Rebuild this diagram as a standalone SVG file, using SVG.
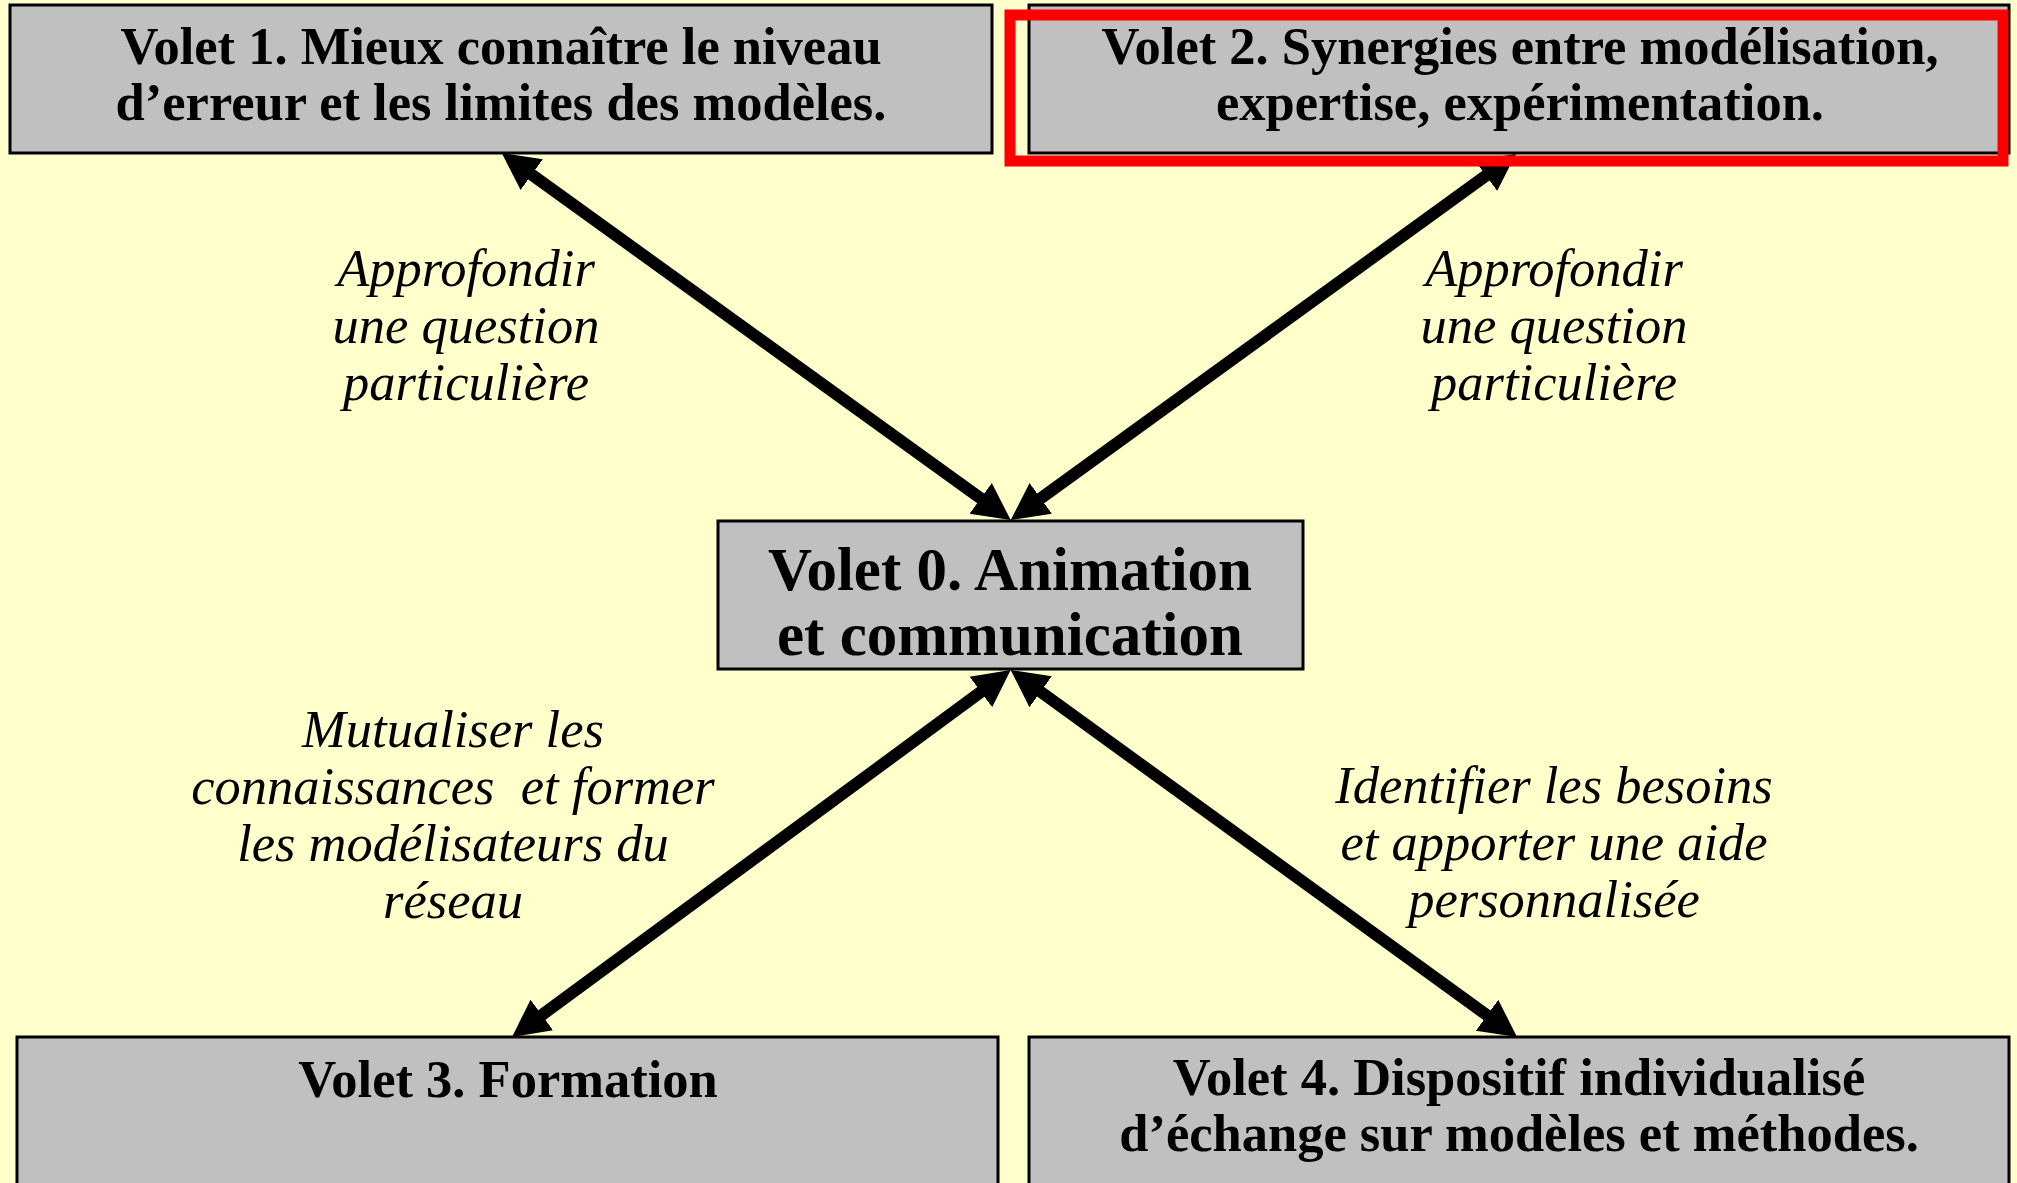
<svg xmlns="http://www.w3.org/2000/svg" width="2017" height="1183" viewBox="0 0 2017 1183">
<style>
.box{fill:#C0C0C0;stroke:#000;stroke-width:3}
.bt{font-family:"Liberation Serif","Times New Roman",serif;font-weight:bold;font-size:52.5px;fill:#000;text-anchor:middle}
.bt0{font-size:61px}
.lb{font-family:"Liberation Serif","Times New Roman",serif;font-style:italic;font-size:52.5px;fill:#000;text-anchor:middle}
.conn{stroke:#000;stroke-width:12;fill:none;marker-start:url(#ah);marker-end:url(#ah)}
</style>
<defs>
<marker id="ah" markerUnits="userSpaceOnUse" markerWidth="44" markerHeight="44" viewBox="0 -22 44 44" refX="3" refY="0" orient="auto-start-reverse">
<path d="M0,-19 L37,0 L0,19 z" fill="#000"/>
</marker>
</defs>
<rect x="0" y="0" width="2017" height="1183" fill="#FFFFCC"/>
<g id="connectors">
<line class="conn" x1="529.3" y1="172.9" x2="983.1" y2="500.1"/>
<line class="conn" x1="1488.4" y1="173.9" x2="1038.3" y2="500.1"/>
<line class="conn" x1="983.3" y1="690.2" x2="539.4" y2="1016.8"/>
<line class="conn" x1="1038.2" y1="690.0" x2="1489.5" y2="1017.0"/>
</g>
<g id="volet1">
<rect class="box" x="10" y="5" width="982" height="148"/>
<text class="bt" x="501" y="64">Volet 1. Mieux connaître le niveau</text>
<text class="bt" x="501" y="120">d’erreur et les limites des modèles.</text>
</g>
<g id="volet2">
<rect class="box" x="1029" y="5" width="980" height="148"/>
<text class="bt" x="1520" y="64">Volet 2. Synergies entre modélisation,</text>
<text class="bt" x="1520" y="120">expertise, expérimentation.</text>
</g>
<g id="highlight">
<rect x="1010" y="15" width="993" height="146" fill="none" stroke="#FF0000" stroke-width="11"/>
</g>
<g id="volet0">
<rect class="box" x="718" y="521" width="585" height="148"/>
<text class="bt bt0" x="1010" y="590">Volet 0. Animation</text>
<text class="bt bt0" x="1010" y="655">et communication</text>
</g>
<g id="volet3">
<rect class="box" x="17" y="1037" width="981" height="160"/>
<text class="bt" x="508" y="1097">Volet 3. Formation</text>
</g>
<g id="volet4">
<rect class="box" x="1029" y="1037" width="980" height="160"/>
<text class="bt" x="1519" y="1095">Volet 4. Dispositif individualisé</text>
<text class="bt" x="1519" y="1151">d’échange sur modèles et méthodes.</text>
</g>
<g id="labels">
<text class="lb" x="466" y="286">Approfondir</text>
<text class="lb" x="466" y="343">une question</text>
<text class="lb" x="466" y="400">particulière</text>
<text class="lb" x="1554" y="286">Approfondir</text>
<text class="lb" x="1554" y="343">une question</text>
<text class="lb" x="1554" y="400">particulière</text>
<text class="lb" x="453" y="747">Mutualiser les</text>
<text class="lb" x="453" y="804" xml:space="preserve">connaissances  et former</text>
<text class="lb" x="453" y="861">les modélisateurs du</text>
<text class="lb" x="453" y="918">réseau</text>
<text class="lb" x="1554" y="803">Identifier les besoins</text>
<text class="lb" x="1554" y="860">et apporter une aide</text>
<text class="lb" x="1554" y="917">personnalisée</text>
</g>
</svg>
